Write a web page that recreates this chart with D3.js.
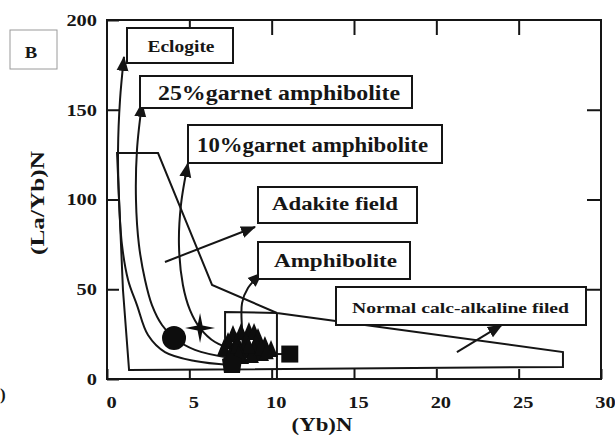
<!DOCTYPE html>
<html>
<head>
<meta charset="utf-8">
<script src="https://cdn.jsdelivr.net/npm/d3@7"></script>
<style>
  html, body { margin: 0; padding: 0; background: #fff; }
  svg { display: block; }
  text { font-family: "Liberation Serif", "Times New Roman", serif; font-weight: bold; fill: #161616; }
</style>
</head>
<body>
<script>
// ---------------- data ----------------
const xTicks = [0, 5, 10, 15, 20, 25, 30];
const yTicks = [0, 50, 100, 150, 200];
const xTitle = "(Yb)N";
const yTitle = "(La/Yb)N";
const panelLabel = "B";

// field outline (adakite + normal calc-alkaline), [(Yb)N, (La/Yb)N]
const fieldOutline = [[0.61,125.9],[3.10,125.9],[6.38,52.4],[10.32,36.8],[27.69,15.0],[27.69,6.7],[1.34,5.0],[0.97,49.6]];
const adakiteRightEdge = [[10.32,36.8],[10.32,0]];
const sampleBox = [[7.17,5.0],[7.17,37.3],[10.32,36.8]];

// melting trends (bottom -> arrow tip)
const eclogiteTrend = [[7.47,7.8],[5.34,10.0],[3.52,15.0],[2.49,24.5],[1.82,41.2],[1.28,55.2],[0.91,74.7],[0.73,99.7],[0.67,127.6],[0.79,155.4],[1.03,179.4]];
const garnet25Trend = [[7.47,11.7],[5.34,16.2],[4.07,22.8],[3.34,30.1],[2.73,41.2],[2.31,55.2],[1.94,74.7],[1.76,99.7],[1.82,127.6],[2.13,153.8]];
const garnet10Trend = [[7.77,16.2],[6.56,20.6],[5.65,28.4],[5.04,38.4],[4.61,52.4],[4.37,74.7],[4.49,96.9],[4.92,120.3]];
const amphiboliteTrend = [[8.26,15.0],[8.20,27.3],[8.20,42.3],[8.56,50.7],[9.41,59.1]];
const adakitePointer = [[3.52,65.2],[8.99,84.7]];
const normalPointer = [[21.25,15.0],[23.98,30.1]];
const clusterTie = [[9.8,13.9],[11.1,13.9]];

// samples
const circleSamples = [[4.07,22.8]];
const starSamples = [[5.65,28.4]];
const squareSamples = [[11.1,13.9]];
const pentagonSamples = [[7.59,7.8]];
const triangleSamples = [[7.65,24.0],[8.14,25.1],[8.62,25.6],[8.93,25.1],[9.17,22.3],[7.35,20.1],[7.89,20.1],[8.44,20.1],[9.05,18.9],[9.59,17.8],[9.96,15.6],[7.10,16.2],[7.71,15.0],[8.32,15.0],[8.93,15.0],[9.41,13.4],[7.47,12.3],[8.20,11.7],[8.80,12.3],[9.35,16.5],[8.6,17.4],[7.9,17.6],[9.7,14.4],[8.0,13.0]];

// annotation texts
const annotationTexts = ["Eclogite", "25%garnet amphibolite", "10%garnet amphibolite", "Adakite field", "Amphibolite", "Normal calc-alkaline filed"];

// ---------------- layout ----------------
const W = 615, H = 437;
const plot = { left: 107, right: 601, top: 20, bottom: 379 };
const annLayout = [
  { box: [127, 28, 233, 63],  tx: 181,   ty: 52,  size: 17, w: 67 },
  { box: [140, 76, 412, 108], tx: 279,   ty: 100, size: 20, w: 242 },
  { box: [188, 125, 442, 163], tx: 312.5, ty: 152, size: 20, w: 231 },
  { box: [258, 187, 417, 223], tx: 335,   ty: 210, size: 18, w: 126 },
  { box: [258, 242, 410, 279], tx: 335.5, ty: 267, size: 18, w: 123 },
  { box: [336, 287, 586, 325], tx: 460.5, ty: 313, size: 15, w: 217 }
];
const STROKE = "#151515";

const svg = d3.select("body").append("svg").attr("width", W).attr("height", H);

const x = d3.scaleLinear().domain([0, 30]).range([plot.left, plot.right]);
const y = d3.scaleLinear().domain([0, 200]).range([plot.bottom, plot.top]);

function stretch(sel, f) {
  sel.each(function () {
    const w = this.getComputedTextLength();
    d3.select(this).attr("textLength", w * f).attr("lengthAdjust", "spacingAndGlyphs");
  });
}

// arrow marker
const defs = svg.append("defs");
defs.append("marker").attr("id", "arr").attr("markerUnits", "userSpaceOnUse")
  .attr("viewBox", "0 -7 15 14").attr("refX", 14).attr("refY", 0)
  .attr("markerWidth", 15).attr("markerHeight", 14).attr("orient", "auto")
  .append("path").attr("d", "M0,-6 L15,0 L0,6 Z").attr("fill", STROKE);

// panel label box
svg.append("rect").attr("x", 10).attr("y", 30).attr("width", 47).attr("height", 39)
  .attr("fill", "none").attr("stroke", "#9a9a9a").attr("stroke-width", 1);
const bl = svg.append("text").attr("x", 31).attr("y", 58).attr("text-anchor", "middle")
  .style("font-size", "17px").text(panelLabel);
stretch(bl, 1.1);

// partial glyph at far left (neighbouring panel)
svg.append("text").attr("x", 0).attr("y", 400).style("font-size", "17px").text(")");

// frame
svg.append("rect").attr("x", plot.left).attr("y", plot.top)
  .attr("width", plot.right - plot.left).attr("height", plot.bottom - plot.top)
  .attr("fill", "none").attr("stroke", STROKE).attr("stroke-width", 2);

// axes
const gx = svg.append("g").attr("transform", `translate(0,${plot.bottom})`)
  .call(d3.axisBottom(x).tickValues(xTicks).tickSize(-10).tickPadding(17).tickFormat(d3.format("d")));
const gxTop = svg.append("g").attr("transform", `translate(0,${plot.top})`)
  .call(d3.axisTop(x).tickValues(xTicks.slice(1, -1)).tickSize(-15).tickFormat(""));
const gy = svg.append("g").attr("transform", `translate(${plot.left},0)`)
  .call(d3.axisLeft(y).tickValues(yTicks).tickSize(-12).tickPadding(10).tickFormat(d3.format("d")));
const gyR = svg.append("g").attr("transform", `translate(${plot.right},0)`)
  .call(d3.axisRight(y).tickValues(yTicks.slice(1, -1)).tickSize(-14).tickFormat(""));
[gx, gxTop, gy, gyR].forEach(g => {
  g.select(".domain").remove();
  g.selectAll(".tick line").attr("stroke", STROKE).attr("stroke-width", 2);
  g.selectAll("text").style("font-size", "17px").attr("fill", "#161616")
    .style("font-family", '"Liberation Serif", serif').style("font-weight", "bold");
});
gx.selectAll("text").attr("dx", 4);
stretch(gx.selectAll("text"), 1.2);
stretch(gy.selectAll("text"), 1.2);

// axis titles
const xt = svg.append("text").attr("x", 322).attr("y", 431).attr("text-anchor", "middle")
  .style("font-size", "19px").text(xTitle);
stretch(xt, 1.2);
svg.append("text").attr("transform", "translate(44,203) rotate(-90)")
  .attr("text-anchor", "middle").style("font-size", "19px")
  .attr("textLength", 104).attr("lengthAdjust", "spacingAndGlyphs").text(yTitle);

const line = d3.line().x(d => x(d[0])).y(d => y(d[1]));
const curve = d3.line().x(d => x(d[0])).y(d => y(d[1])).curve(d3.curveCatmullRom.alpha(0.5));

// fields
svg.append("path").attr("d", line(fieldOutline) + "Z").attr("fill", "none")
  .attr("stroke", STROKE).attr("stroke-width", 2).attr("stroke-linejoin", "miter");
svg.append("path").attr("d", line(adakiteRightEdge)).attr("fill", "none").attr("stroke", STROKE).attr("stroke-width", 2);
svg.append("path").attr("d", line(sampleBox)).attr("fill", "none").attr("stroke", STROKE).attr("stroke-width", 2);
svg.append("path").attr("d", line(clusterTie)).attr("fill", "none").attr("stroke", STROKE).attr("stroke-width", 2);

// trends
[eclogiteTrend, garnet25Trend, garnet10Trend, amphiboliteTrend].forEach(t => {
  svg.append("path").attr("d", curve(t)).attr("fill", "none").attr("stroke", STROKE)
    .attr("stroke-width", 2).attr("marker-end", "url(#arr)");
});
[adakitePointer, normalPointer].forEach(t => {
  svg.append("path").attr("d", line(t)).attr("fill", "none").attr("stroke", STROKE)
    .attr("stroke-width", 2).attr("marker-end", "url(#arr)");
});

// samples
const marks = svg.append("g").attr("fill", "#0d0d0d");
marks.selectAll(".tri").data(triangleSamples).join("path")
  .attr("transform", d => `translate(${x(d[0])},${y(d[1])})`)
  .attr("d", "M0,-11 L7,6 L-7,6 Z");
marks.selectAll(".pent").data(pentagonSamples).join("path")
  .attr("transform", d => `translate(${x(d[0])},${y(d[1])})`)
  .attr("d", "M-10,-6 L-4,-9 L4,-9 L10,-6 L8,8 L-8,8 Z");
marks.selectAll(".circ").data(circleSamples).join("circle")
  .attr("cx", d => x(d[0])).attr("cy", d => y(d[1])).attr("r", 12);
marks.selectAll(".star").data(starSamples).join("path")
  .attr("transform", d => `translate(${x(d[0])},${y(d[1])})`)
  .attr("d", "M0,-15 L2.5,-2.5 L15,0 L2.5,2.5 L0,15 L-2.5,2.5 L-15,0 L-2.5,-2.5 Z");
marks.selectAll(".sq").data(squareSamples).join("rect")
  .attr("x", d => x(d[0]) - 8.5).attr("y", d => y(d[1]) - 8.5).attr("width", 17).attr("height", 17);

// annotation boxes
annotationTexts.forEach((t, i) => {
  const L = annLayout[i];
  svg.append("rect").attr("x", L.box[0]).attr("y", L.box[1])
    .attr("width", L.box[2] - L.box[0]).attr("height", L.box[3] - L.box[1])
    .attr("fill", "#fff").attr("stroke", STROKE).attr("stroke-width", 2);
  svg.append("text").attr("x", L.tx).attr("y", L.ty).attr("text-anchor", "middle")
    .style("font-size", L.size + "px").attr("textLength", L.w)
    .attr("lengthAdjust", "spacingAndGlyphs").text(t);
});
</script>
</body>
</html>
